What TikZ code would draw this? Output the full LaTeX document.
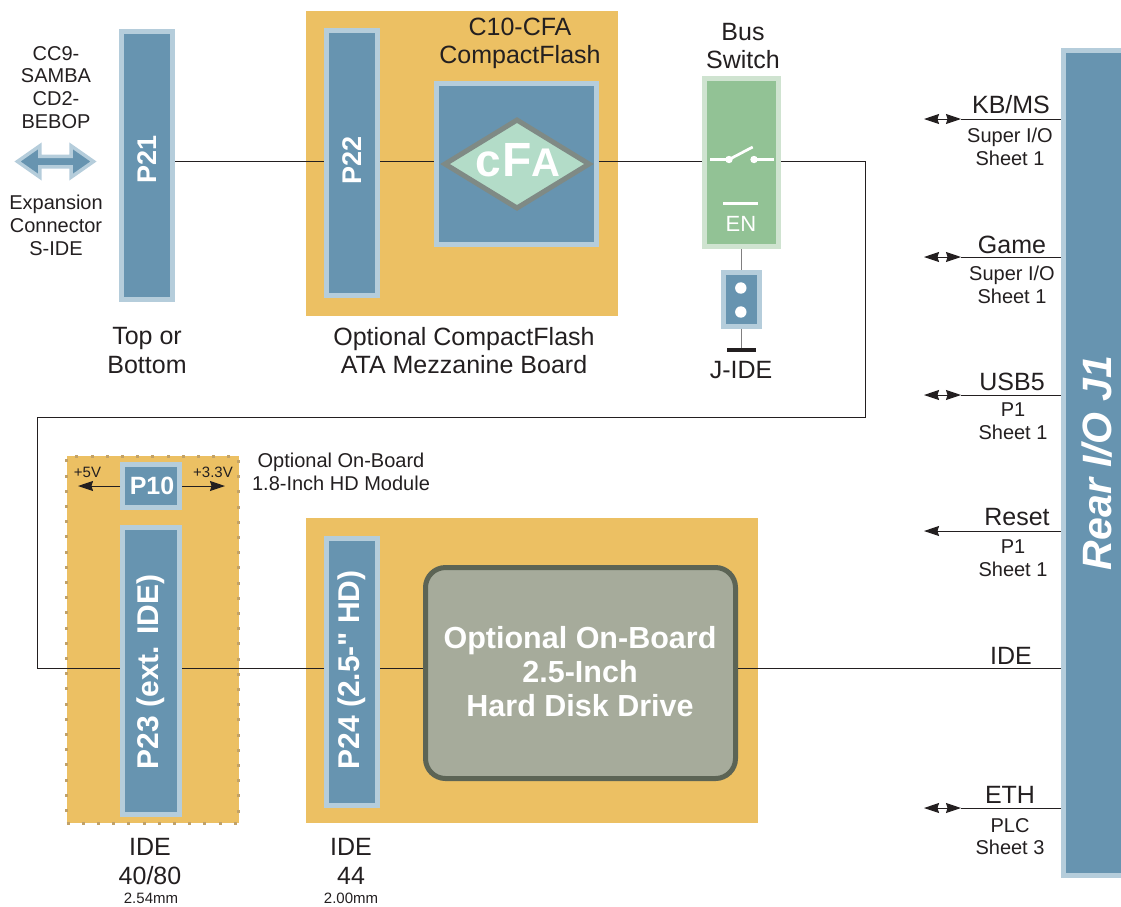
\documentclass[tikz,border=0pt]{standalone}
\usepackage{fontspec}
\usepackage{xcolor}
\setmainfont{Liberation Sans}
\newfontfamily\plainsans{Liberation Sans}
\usetikzlibrary{arrows.meta, shapes.geometric, shapes.arrows, positioning, calc}
\definecolor{ink}{HTML}{231F20}
\definecolor{pcb}{HTML}{ECC063}
\definecolor{pcbdot}{HTML}{C2A268}
\definecolor{bluefill}{HTML}{6794B0}
\definecolor{blueedge}{HTML}{B5CDDB}
\definecolor{greenfill}{HTML}{92C295}
\definecolor{greenedge}{HTML}{CFE3D0}
\definecolor{diafill}{HTML}{B3DCC8}
\definecolor{diaedge}{HTML}{7F8A85}
\definecolor{hddfill}{HTML}{A6AB9B}
\definecolor{hddedge}{HTML}{5C6455}
\definecolor{stubgray}{HTML}{807F80}

\begin{document}
\begin{tikzpicture}[
                x=1pt, y=-1pt,
                board/.style={fill=pcb, inner sep=0pt},
                conn/.style={rectangle, draw=blueedge, fill=bluefill, line width=5pt, inner sep=0pt},
                pinname/.style={rotate=90, text=white, inner sep=0pt, font=\fontsize{27}{30}\selectfont\bfseries},
                bigname/.style={pinname, font=\fontsize{30}{34}\selectfont\bfseries},
                lbl/.style={text=ink, align=center, inner sep=0pt, font=\fontsize{25}{28.5}\selectfont},
                midlbl/.style={text=ink, align=center, inner sep=0pt, font=\fontsize{20}{22.8}\selectfont},
                tinylbl/.style={text=ink, inner sep=0pt, font=\fontsize{15}{16}\selectfont},
                wire/.style={draw=ink, line width=1pt},
                tipleft/.style={-{Stealth[length=15pt, width=10pt, inset=1.5pt]}},
                tipboth/.style={{Stealth[length=15pt, width=10pt, inset=1.5pt]}-{Stealth[length=15pt, width=10pt, inset=1.5pt]}}
            ]
                \clip (0,0) rectangle (1121,906);

                % Boards
                \node[board, minimum width=312pt, minimum height=305pt] (cfboard) at (462,163.5) {};
                \node[board, minimum width=452pt, minimum height=305pt] (hdboard) at (532,670.5) {};
                \node[board, draw=pcbdot, line width=3pt, dash pattern=on 3pt off 12.2pt,
                    minimum width=172pt, minimum height=367pt] (modboard) at (152.5,639.5) {};

                % Connectors
                \node[conn, minimum width=51pt, minimum height=268pt] (P21) at (147,165.5) {};
                \node[conn, minimum width=51pt, minimum height=265pt] (P22) at (352,163) {};
                \node[conn, minimum width=57pt, minimum height=43pt] (P10) at (151,486) {};
                \node[conn, minimum width=57pt, minimum height=287pt] (P23) at (151,671) {};
                \node[conn, minimum width=51pt, minimum height=267pt] (P24) at (352,672) {};
                \node[conn, minimum width=69pt, minimum height=825pt] (J1) at (1098,463) {};
                \node[pinname] (P21text) at (147,159) {P21};
                \node[pinname] (P22text) at (352,160) {P22};
                \node[text=white, inner sep=0pt, font=\fontsize{25}{30}\selectfont\bfseries] (P10text) at (152,486) {P10};
                \node[bigname] (P23text) at (151,672) {P23 (ext. IDE)};
                \node[bigname] (P24text) at (352,670) {P24 (2.5-{\plainsans\bfseries"} HD)};
                \node[rotate=90, text=white, inner sep=0pt, font=\fontsize{41}{45}\selectfont\bfseries\itshape] (J1text) at (1097,463) {Rear I/O J1};

                % CompactFlash
                \node[conn, minimum width=160pt, minimum height=161pt] (cfa) at (516.5,164) {};
                \node[diamond, draw=diaedge, fill=diafill, line width=5pt, aspect=1.65, inner sep=0pt,
                    minimum width=146pt, minimum height=90pt] (cfalogo) at (517,164) {};
                \node[anchor=base, text=white, inner sep=0pt, font=\bfseries] (cfatext) at (517.5,176.5)
                    {\fontsize{46}{50}\selectfont c\kern2pt\fontsize{48}{50}\selectfont F\kern-1pt\fontsize{40}{50}\selectfont A};

                % Bus switch
                \node[rectangle, draw=greenedge, fill=greenfill, line width=5pt, inner sep=0pt,
                    minimum width=74pt, minimum height=168pt] (switch) at (741.5,162.5) {};
                \coordinate (swL) at (729,159.5);
                \coordinate (swR) at (754,159.5);
                \draw[white, line width=2.7pt] (710,159.5) -- (swL) -- (752.7,147);
                \draw[white, line width=2.7pt] (swR) -- (774,159.5);
                \fill[white] (swL) circle (3.7pt) (swR) circle (3.7pt);
                \draw[white, line width=3pt] (723,203.3) -- (758,203.3);
                \node[text=white, inner sep=0pt, font=\fontsize{22}{26}\selectfont] (en) at (741,224) {EN};

                % Jumper
                \node[conn, minimum width=36pt, minimum height=54pt] (jumper) at (741.2,299) {};
                \fill[white] (740.8,288) circle (5.7pt) (740.8,312) circle (5.7pt);
                \coordinate (jgnd) at (741,350);
                \draw[stubgray, line width=1pt] (switch.south -| jumper) -- (jumper.north);
                \draw[stubgray, line width=1pt] (jumper.south) -- (jumper.south |- jgnd);
                \draw[ink, line width=4pt] (727,350) -- (756,350);

                % Disk
                \node[rectangle, rounded corners=20pt, draw=hddedge, fill=hddfill, line width=5pt, inner sep=0pt,
                    minimum width=310pt, minimum height=211pt] (hdd) at (580.5,673) {};
                \node[text=white, align=center, inner sep=0pt, font=\fontsize{30.5}{34}\selectfont\bfseries] (hddtext) at (580,671.5)
                    {Optional On-Board\\2.5-Inch\\Hard Disk Drive};

                % Expansion arrow
                \node[double arrow, draw=blueedge, fill=bluefill, line width=3.5pt, inner sep=3.5pt,
                    double arrow head extend=10.5pt, double arrow tip angle=70,
                    minimum height=76pt, minimum width=29pt] (expand) at (55.5,161.5) {};

                % Wires
                \coordinate (busA) at (0,161);
                \coordinate (busB) at (0,668.5);
                \coordinate (turnA) at (865,417);
                \coordinate (turnB) at (37.5,417);
                \draw[wire] (P21.east |- busA) -- (P22.west |- busA);
                \draw[wire] (P22.east |- busA) -- (cfa.west |- busA);
                \draw[wire] (cfa.east |- busA) -- (switch.west |- busA);
                \draw[wire] (switch.east |- busA) -| (turnA) -- (turnB) |- (P23.west |- busB);
                \draw[wire] (P23.east |- busB) -- (P24.west |- busB);
                \draw[wire] (P24.east |- busB) -- (hdd.west |- busB);
                \draw[wire] (hdd.east |- busB) -- (J1.west |- busB);

                % P10 rails
                \coordinate (railL) at (78,486);
                \coordinate (railR) at (225,486);
                \draw[wire, tipleft] (P10.west) -- (railL);
                \draw[wire, tipleft] (P10.east) -- (railR);
                \node[tinylbl] (rail5) at (87.5,472) {+5V};
                \node[tinylbl] (rail33) at (213,472) {+3.3V};

                % Rear signals
                \foreach \sig/\ypos/\subtext/\xsub/\ysub in {
                        KB/119/{Super I/O\\Sheet 1}/1010/146.5,
                        Game/257/{Super I/O\\Sheet 1}/1012/284.5,
                        USB5/395/{P1\\Sheet 1}/1013/421.5,
                        ETH/808/{PLC\\Sheet 3}/1010/836.5} {
                    \coordinate (\sig left) at (924,\ypos);
                    \coordinate (\sig mid) at (961,\ypos);
                    \draw[wire, tipboth] (\sig left) -- (\sig mid);
                    \draw[wire] (\sig mid) -- (J1.west |- \sig mid);
                    \node[midlbl] (\sig sub) at (\xsub,\ysub) {\subtext};
                }
                \node[lbl] (kbname) at (1011,105) {KB/MS};
                \node[lbl] (gamename) at (1012,245) {Game};
                \node[lbl] (usbname) at (1012,382) {USB5};
                \node[lbl] (ethname) at (1010,795) {ETH};
                \coordinate (resetleft) at (924,531);
                \draw[wire, tipleft] (J1.west |- resetleft) -- (resetleft);
                \node[lbl] (resetname) at (1017,517) {Reset};
                \node[midlbl] (resetsub) at (1013,558) {P1\\Sheet 1};
                \node[lbl] (idename) at (1011,656) {IDE};

                % Labels
                \node[midlbl] (cclabel) at (56,87.5) {CC9-\\SAMBA\\CD2-\\BEBOP};
                \node[midlbl] (explabel) at (56,225.5) {Expansion\\Connector\\S-IDE};
                \node[lbl] (toplabel) at (147,350.5) {Top or\\Bottom};
                \node[lbl] (cflabel) at (520,43.5) {C10-CFA\\CompactFlash};
                \node[lbl] (buslabel) at (743,46) {Bus\\Switch};
                \node[lbl] (mezlabel) at (464,350.5) {Optional CompactFlash\\ATA Mezzanine Board};
                \node[lbl] (jidelabel) at (741,370) {J-IDE};
                \node[midlbl] (modlabel) at (341,472) {Optional On-Board\\1.8-Inch HD Module};
                \node[lbl] (ide40) at (150,861.5) {IDE\\40/80};
                \node[tinylbl] (pitch40) at (151,898) {2.54mm};
                \node[lbl] (ide44) at (351,861.5) {IDE\\44};
                \node[tinylbl] (pitch44) at (351,898) {2.00mm};
            \end{tikzpicture}
\end{document}
